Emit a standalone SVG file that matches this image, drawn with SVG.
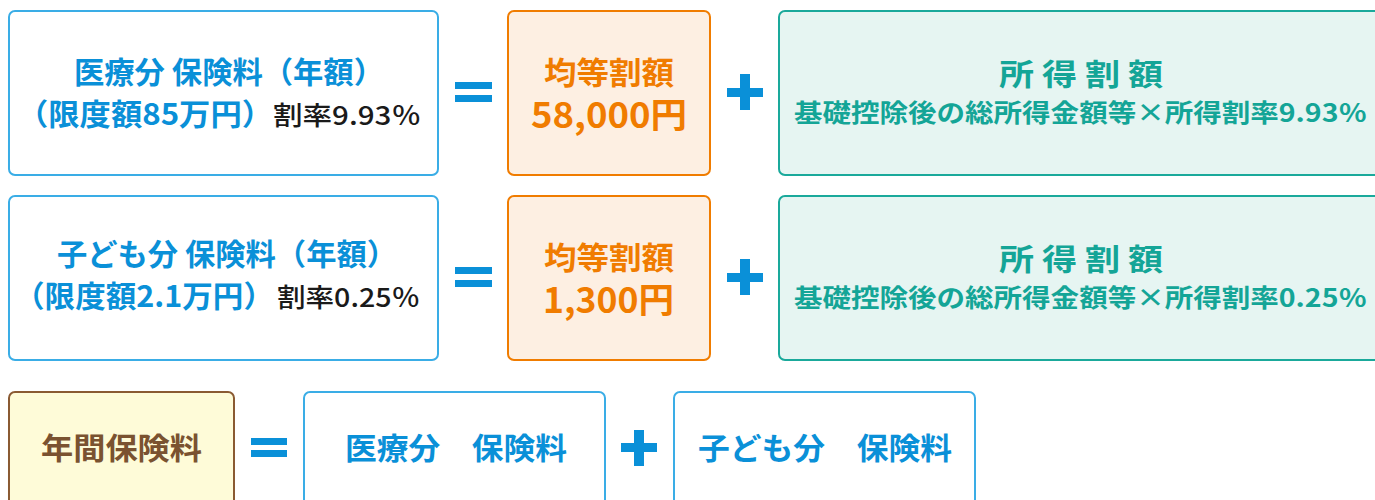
<svg xmlns="http://www.w3.org/2000/svg" width="1375" height="500" viewBox="0 0 1375 500">
<style>
text{font-family:"Noto Sans CJK JP","Noto Sans",sans-serif;font-weight:bold}
.bbox{fill:#fff;stroke:#3aade6;stroke-width:2}
.obox{fill:#fdefe2;stroke:#f07c00;stroke-width:2}
.tbox{fill:#e6f5f2;stroke:#1aa99b;stroke-width:2}
.ybox{fill:#fefbd8;stroke:#8a5a32;stroke-width:2}
.bt{fill:#0a90d8}
.ot{fill:#f07c00}
.tt{fill:#14a597}
.yt{fill:#7a5230}
.kt{fill:#1a1a1a;font-weight:500}
.op{fill:#0a90d8}
</style>
<g id="medical-total">
<rect class="bbox" x="9" y="11" width="429" height="164" rx="6"/>
<text class="bt" x="74" y="83" font-size="30" textLength="310" lengthAdjust="spacingAndGlyphs">医療分 保険料（年額）</text>
<text class="bt" x="17" y="125" font-size="30" textLength="256" lengthAdjust="spacingAndGlyphs">（限度額85万円）</text>
<text class="kt" x="273" y="125" font-size="26" textLength="148" lengthAdjust="spacingAndGlyphs">割率9.93％</text>
</g>
<g id="medical-flat">
<rect class="obox" x="508" y="11" width="202" height="164" rx="6"/>
<text class="ot" x="544" y="84" font-size="31" textLength="130" lengthAdjust="spacingAndGlyphs">均等割額</text>
<text class="ot" x="531" y="128" font-size="35" textLength="156" lengthAdjust="spacingAndGlyphs">58,000円</text>
</g>
<g id="medical-income">
<rect class="tbox" x="779" y="11" width="610" height="164" rx="6"/>
<text class="tt" x="999" y="85" font-size="30" textLength="164" lengthAdjust="spacingAndGlyphs">所 得 割 額</text>
<text class="tt" x="794" y="122" font-size="25" textLength="573" lengthAdjust="spacingAndGlyphs">基礎控除後の総所得金額等×所得割率9.93％</text>
</g>
<g id="child-total">
<rect class="bbox" x="9" y="196" width="429" height="164" rx="6"/>
<text class="bt" x="57" y="265" font-size="30" textLength="340" lengthAdjust="spacingAndGlyphs">子ども分 保険料（年額）</text>
<text class="bt" x="14" y="307" font-size="30" textLength="260" lengthAdjust="spacingAndGlyphs">（限度額2.1万円）</text>
<text class="kt" x="277" y="307" font-size="26" textLength="143" lengthAdjust="spacingAndGlyphs">割率0.25％</text>
</g>
<g id="child-flat">
<rect class="obox" x="508" y="196" width="202" height="164" rx="6"/>
<text class="ot" x="544" y="269" font-size="31" textLength="130" lengthAdjust="spacingAndGlyphs">均等割額</text>
<text class="ot" x="543" y="313" font-size="35" textLength="131" lengthAdjust="spacingAndGlyphs">1,300円</text>
</g>
<g id="child-income">
<rect class="tbox" x="779" y="196" width="610" height="164" rx="6"/>
<text class="tt" x="999" y="270" font-size="30" textLength="164" lengthAdjust="spacingAndGlyphs">所 得 割 額</text>
<text class="tt" x="794" y="307" font-size="25" textLength="573" lengthAdjust="spacingAndGlyphs">基礎控除後の総所得金額等×所得割率0.25％</text>
</g>
<g id="annual">
<rect class="ybox" x="9" y="392" width="225" height="130" rx="6"/>
<text class="yt" x="41" y="459" font-size="30" textLength="161" lengthAdjust="spacingAndGlyphs">年間保険料</text>
</g>
<g id="annual-medical">
<rect class="bbox" x="304" y="392" width="301" height="130" rx="6"/>
<text class="bt" x="345" y="459" font-size="30" textLength="222" lengthAdjust="spacingAndGlyphs">医療分　保険料</text>
</g>
<g id="annual-child">
<rect class="bbox" x="674" y="392" width="301" height="130" rx="6"/>
<text class="bt" x="698" y="459" font-size="30" textLength="254" lengthAdjust="spacingAndGlyphs">子ども分　保険料</text>
</g>
<g id="operators">
<rect class="op" x="455" y="82" width="37" height="7"/>
<rect class="op" x="455" y="95" width="37" height="7"/>
<rect class="op" x="727" y="88" width="36" height="9"/>
<rect class="op" x="740" y="74" width="10" height="36"/>
<rect class="op" x="455" y="267" width="37" height="7"/>
<rect class="op" x="455" y="280" width="37" height="7"/>
<rect class="op" x="727" y="273" width="36" height="9"/>
<rect class="op" x="740" y="259" width="10" height="36"/>
<rect class="op" x="251" y="438" width="36" height="7"/>
<rect class="op" x="251" y="450" width="36" height="7"/>
<rect class="op" x="621" y="443" width="36" height="9"/>
<rect class="op" x="634" y="430" width="10" height="36"/>
</g>
</svg>
